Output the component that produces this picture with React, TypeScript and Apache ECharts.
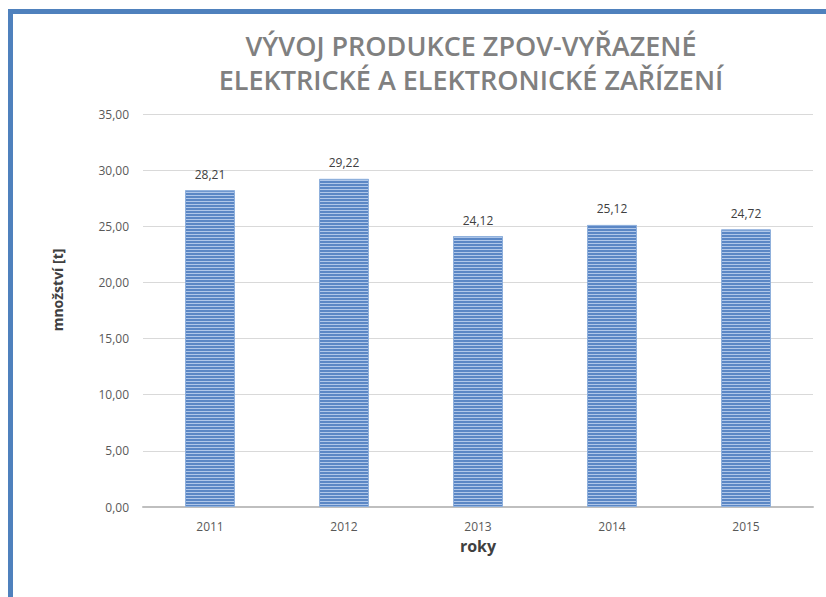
import React, { useEffect, useRef } from "react";
import * as echarts from "echarts";

const categories = ["2011", "2012", "2013", "2014", "2015"];
const values = [28.21, 29.22, 24.12, 25.12, 24.72];
const yTicks = { min: 0, max: 35, interval: 5 };
const titleLines = ["VÝVOJ PRODUKCE ZPOV-VYŘAZENÉ", "ELEKTRICKÉ A ELEKTRONICKÉ ZAŘÍZENÍ"];
const xName = "roky";
const yName = "množství [t]";

const fmt = (v: number) => v.toFixed(2).replace(".", ",");

export default function App() {
  const ref = useRef<HTMLDivElement>(null);
  useEffect(() => {
    if (!ref.current) return;
    const chart = echarts.init(ref.current, undefined, { renderer: "svg" });
    const font = "'Open Sans', sans-serif";
    chart.setOption({
      animation: false,
      backgroundColor: "#ffffff",
      title: {
        text: titleLines.join("\n"),
        top: 23,
        left: 466,
        textAlign: "center",
        textStyle: {
          fontFamily: font,
          fontSize: 27,
          fontWeight: 600,
          color: "#808080",
          lineHeight: 34,
        },
      },
      graphic: [
        { type: "rect", shape: { x: 8, y: 9, width: 5, height: 600 }, style: { fill: "#4f81bd" }, z: 100 },
        { type: "rect", shape: { x: 8, y: 9, width: 830, height: 5 }, style: { fill: "#4f81bd" }, z: 100 },
        {
          type: "text",
          x: 57,
          y: 290,
          rotation: Math.PI / 2,
          style: {
            text: yName,
            fontFamily: font,
            fontSize: 14,
            fontWeight: "bold",
            fill: "#404040",
            align: "center",
            verticalAlign: "middle",
          },
        },
      ],
      grid: { left: 143, right: 13, top: 114, bottom: 90, containLabel: false },
      xAxis: {
        type: "category",
        data: categories,
        name: xName,
        nameLocation: "middle",
        nameGap: 31,
        nameTextStyle: { fontFamily: font, fontSize: 16, fontWeight: "bold", color: "#404040" },
        axisLine: { lineStyle: { color: "#bfbfbf", width: 2 } },
        axisTick: { show: false },
        axisLabel: { fontFamily: font, fontSize: 12, color: "#595959", margin: 13 },
      },
      yAxis: {
        type: "value",
        min: yTicks.min,
        max: yTicks.max,
        interval: yTicks.interval,
        axisLine: { show: false },
        axisTick: { show: false },
        splitLine: { lineStyle: { color: "#d9d9d9", width: 1 } },
        axisLabel: {
          fontFamily: font,
          fontSize: 12,
          color: "#595959",
          margin: 14,
          formatter: (v: number) => fmt(v),
        },
      },
      series: [
        {
          type: "bar",
          data: values,
          barWidth: 50,
          itemStyle: {
            color: "#5b87c5",
            borderColor: "#8fb0dc",
            borderWidth: 1,
            decal: {
              symbol: "rect",
              symbolSize: 1,
              dashArrayX: [1, 0],
              dashArrayY: [1, 2],
              rotation: 0,
              color: "rgba(190,210,240,0.85)",
            },
          },
          label: {
            show: true,
            position: "top",
            distance: 10,
            fontFamily: font,
            fontSize: 12,
            color: "#404040",
            formatter: (p: any) => fmt(p.value),
          },
        },
      ],
    });
    return () => chart.dispose();
  }, []);
  return (
    <div
      ref={ref}
      style={{ position: "fixed", left: 0, top: 0, width: 826, height: 597 }}
    />
  );
}
